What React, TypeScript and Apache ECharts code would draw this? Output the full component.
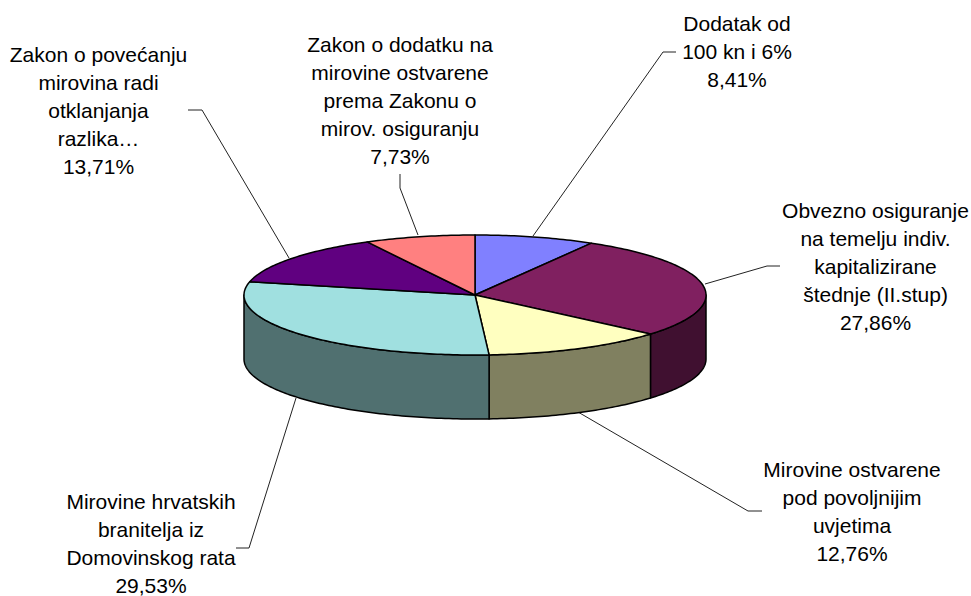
import React, { useEffect, useRef } from "react";
import * as echarts from "echarts";

// Data, clockwise from 12 o'clock
const sliceNames = [
  "Dodatak od 100 kn i 6%",
  "Obvezno osiguranje na temelju indiv. kapitalizirane štednje (II.stup)",
  "Mirovine ostvarene pod povoljnijim uvjetima",
  "Mirovine hrvatskih branitelja iz Domovinskog rata",
  "Zakon o povećanju mirovina radi otklanjanja razlika…",
  "Zakon o dodatku na mirovine ostvarene prema Zakonu o mirov. osiguranju",
];
const sliceValues = [8.41, 27.86, 12.76, 29.53, 13.71, 7.73];
const labelLines = [
  ["Dodatak od", "100 kn i 6%", "8,41%"],
  ["Obvezno osiguranje", "na temelju indiv.", "kapitalizirane", "štednje (II.stup)", "27,86%"],
  ["Mirovine ostvarene", "pod povoljnijim", "uvjetima", "12,76%"],
  ["Mirovine hrvatskih", "branitelja iz", "Domovinskog rata", "29,53%"],
  ["Zakon o povećanju", "mirovina radi", "otklanjanja", "razlika…", "13,71%"],
  ["Zakon o dodatku na", "mirovine ostvarene", "prema Zakonu o", "mirov. osiguranju", "7,73%"],
];

// Styling and layout
const topColors = ["#8080FF", "#802060", "#FFFFC0", "#A0E0E0", "#600080", "#FF8080"];
const sideColors = ["#404080", "#401030", "#808060", "#507070", "#300040", "#804040"];
const CX = 475;
const CY = 295;
const RX = 231;
const RY = 60;
const DEPTH = 64;
const LINE_H = 28.2;
const FONT = '21px "Liberation Sans", Arial, sans-serif';
const labelCenters = [
  [737, 23],
  [875.5, 210],
  [852, 469],
  [151, 501],
  [98.5, 54],
  [400, 44],
];
const leaders = [
  [[533, 236], [663, 52], [676, 52]],
  [[705, 284], [767, 266], [780, 266]],
  [[578, 412], [748, 511], [762, 511]],
  [[296, 398], [249, 548], [236, 548]],
  [[289, 258], [202, 110], [188, 110]],
  [[418, 235], [400, 188], [400, 174]],
];

const pt = (deg: number, dy = 0): number[] => {
  const r = (deg * Math.PI) / 180;
  return [CX + RX * Math.sin(r), CY - RY * Math.cos(r) + dy];
};

const arcPoints = (from: number, to: number, dy = 0): number[][] => {
  const pts: number[][] = [];
  const n = Math.max(2, Math.ceil(Math.abs(to - from)));
  for (let i = 0; i <= n; i++) pts.push(pt(from + ((to - from) * i) / n, dy));
  return pts;
};

export default function App() {
  const ref = useRef<HTMLDivElement>(null);
  useEffect(() => {
    const chart = echarts.init(ref.current!, undefined, { renderer: "svg" });
    const total = sliceValues.reduce((a, b) => a + b, 0);
    let acc = 0;
    const angles = sliceValues.map((v) => {
      const start = (acc / total) * 360;
      acc += v;
      return [start, (acc / total) * 360];
    });
    const edge = { stroke: "#000", lineWidth: 1.5, lineJoin: "round" };

    const graphics: any[] = [];
    leaders.forEach((points) => {
      graphics.push({
        type: "polyline",
        z: 1,
        shape: { points },
        style: { stroke: "#222", lineWidth: 1, fill: "none" },
      });
    });
    labelLines.forEach((lines, i) => {
      lines.forEach((text, j) => {
        graphics.push({
          type: "text",
          z: 5,
          x: labelCenters[i][0],
          y: labelCenters[i][1] + j * LINE_H,
          style: {
            text,
            font: FONT,
            fill: "#000",
            textAlign: "center",
            textVerticalAlign: "middle",
          },
        });
      });
    });

    chart.setOption({
      animation: false,
      backgroundColor: "#fff",
      tooltip: { show: false },
      graphic: graphics,
      series: [
        {
          type: "custom",
          coordinateSystem: "none",
          silent: true,
          z: 3,
          clip: false,
          data: sliceNames.map((name, i) => ({ name, value: sliceValues[i] })),
          renderItem: (params: any) => {
            const i = params.dataIndex;
            const [a0, a1] = angles[i];
            const children: any[] = [];
            const s0 = Math.max(a0, 90);
            const s1 = Math.min(a1, 270);
            if (s1 > s0) {
              const top = arcPoints(s0, s1);
              const bottom = arcPoints(s1, s0, DEPTH);
              children.push({
                type: "polygon",
                shape: { points: [...top, ...bottom] },
                style: { fill: sideColors[i], ...edge },
              });
            }
            children.push({
              type: "polygon",
              shape: { points: [[CX, CY], ...arcPoints(a0, a1)] },
              style: { fill: topColors[i], ...edge },
            });
            return { type: "group", children };
          },
        },
      ],
    });
    return () => chart.dispose();
  }, []);
  return (
    <div
      ref={ref}
      style={{ position: "absolute", left: 0, top: 0, width: 971, height: 596 }}
    />
  );
}
